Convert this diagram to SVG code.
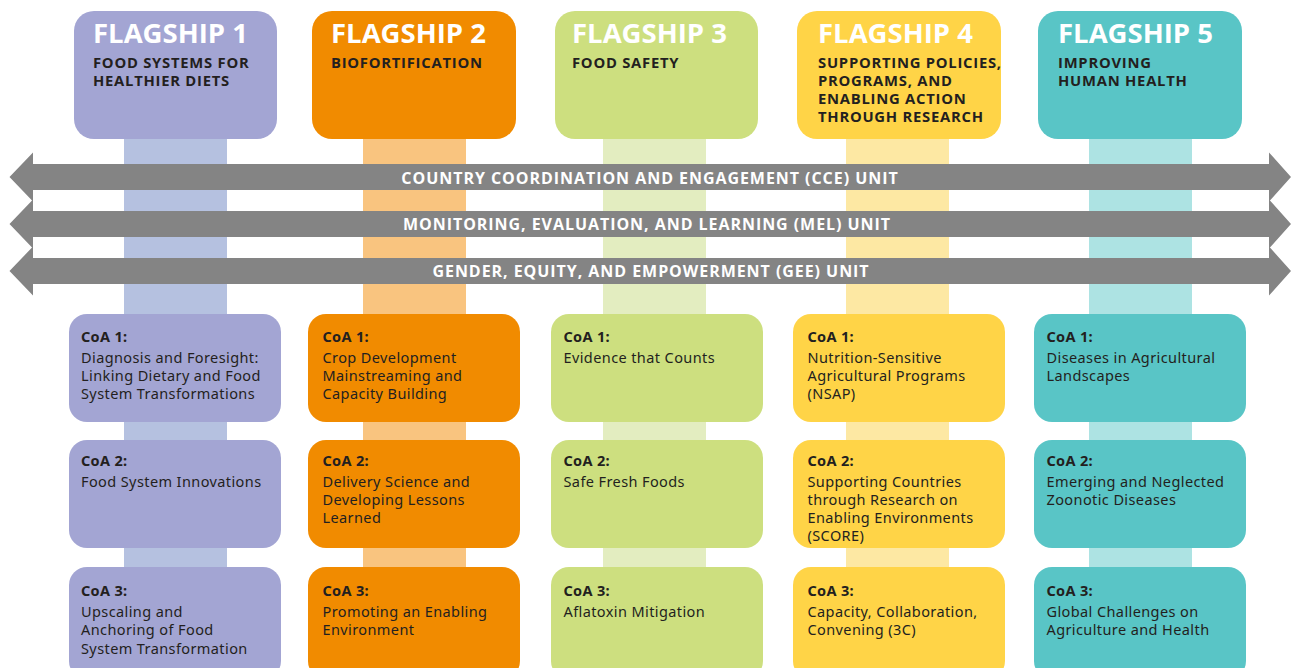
<svg xmlns="http://www.w3.org/2000/svg" width="1291" height="668" viewBox="0 0 1291 668">
<style>
.title{font-family:"Open Sans","Noto Sans",sans-serif;font-weight:700;font-size:27.5px;fill:#ffffff}
.sub{font-family:"Open Sans","Noto Sans",sans-serif;font-weight:700;font-size:14.8px;fill:#231f20;letter-spacing:0.75px}
.unit{font-family:"Open Sans","Noto Sans",sans-serif;font-weight:700;font-size:16px;fill:#ffffff;letter-spacing:0.95px}
.lab{font-family:"Noto Sans",sans-serif;font-weight:700;font-size:14.5px;fill:#231f20;letter-spacing:0.3px}
.body{font-family:"Noto Sans",sans-serif;font-weight:400;font-size:14.5px;fill:#231f20;letter-spacing:0.4px}
.arrow{fill:#848484}
</style>
<defs>
<path id="arr" d="M9.5,177 L33,152.5 L33,164 L1269,164 L1269,152.5 L1291,177 L1269,201.5 L1269,190 L33,190 L33,201.5 Z"/>
</defs>
<rect width="1291" height="668" fill="#ffffff"/>
<g id="stems">
<rect x="124" y="130" width="103" height="540" fill="#b5c1e0"/>
<rect x="363" y="130" width="103" height="540" fill="#f9c47f"/>
<rect x="603" y="130" width="103" height="540" fill="#e3edc0"/>
<rect x="846" y="130" width="103" height="540" fill="#fde8a3"/>
<rect x="1089" y="130" width="103" height="540" fill="#ade3e3"/>
</g>
<g id="flagship1">
<rect x="74" y="11" width="203" height="128" rx="20" fill="#a3a5d3"/>
<text class="title" x="93" y="43">FLAGSHIP 1</text>
<text class="sub" x="93" y="68">FOOD SYSTEMS FOR</text>
<text class="sub" x="93" y="86">HEALTHIER DIETS</text>
</g>
<g id="flagship2">
<rect x="312" y="11" width="204" height="128" rx="20" fill="#f18b00"/>
<text class="title" x="331" y="43">FLAGSHIP 2</text>
<text class="sub" x="331" y="68">BIOFORTIFICATION</text>
</g>
<g id="flagship3">
<rect x="555" y="11" width="203" height="128" rx="20" fill="#cddf7f"/>
<text class="title" x="572" y="43">FLAGSHIP 3</text>
<text class="sub" x="572" y="68">FOOD SAFETY</text>
</g>
<g id="flagship4">
<rect x="797" y="11" width="204" height="128" rx="20" fill="#ffd447"/>
<text class="title" x="818" y="43">FLAGSHIP 4</text>
<text class="sub" x="818" y="68">SUPPORTING POLICIES,</text>
<text class="sub" x="818" y="86">PROGRAMS, AND</text>
<text class="sub" x="818" y="104">ENABLING ACTION</text>
<text class="sub" x="818" y="122">THROUGH RESEARCH</text>
</g>
<g id="flagship5">
<rect x="1038" y="11" width="204" height="128" rx="20" fill="#59c5c6"/>
<text class="title" x="1058" y="43">FLAGSHIP 5</text>
<text class="sub" x="1058" y="68">IMPROVING</text>
<text class="sub" x="1058" y="86">HUMAN HEALTH</text>
</g>
<g id="connectors">
<g id="cce">
<use href="#arr" class="arrow"/>
<text class="unit" x="650" y="183.5" text-anchor="middle">COUNTRY COORDINATION AND ENGAGEMENT (CCE) UNIT</text>
</g>
<g id="mel">
<use href="#arr" class="arrow" transform="translate(0,47)"/>
<text class="unit" x="647" y="230" text-anchor="middle">MONITORING, EVALUATION, AND LEARNING (MEL) UNIT</text>
</g>
<g id="gee">
<use href="#arr" class="arrow" transform="translate(0,94)"/>
<text class="unit" x="651" y="277" text-anchor="middle">GENDER, EQUITY, AND EMPOWERMENT (GEE) UNIT</text>
</g>
</g>
<g id="f1-coa1">
<rect x="69" y="314" width="212" height="108" rx="18" fill="#a3a5d3"/>
<text class="lab" x="81" y="342">CoA 1:</text>
<text class="body" x="81" y="362.5">Diagnosis and Foresight:</text>
<text class="body" x="81" y="380.8">Linking Dietary and Food</text>
<text class="body" x="81" y="399">System Transformations</text>
</g>
<g id="f1-coa2">
<rect x="69" y="440" width="212" height="108" rx="18" fill="#a3a5d3"/>
<text class="lab" x="81" y="466">CoA 2:</text>
<text class="body" x="81" y="486.5">Food System Innovations</text>
</g>
<g id="f1-coa3">
<rect x="69" y="567" width="212" height="112" rx="18" fill="#a3a5d3"/>
<text class="lab" x="81" y="596">CoA 3:</text>
<text class="body" x="81" y="617">Upscaling and</text>
<text class="body" x="81" y="635.3">Anchoring of Food</text>
<text class="body" x="81" y="653.6">System Transformation</text>
</g>
<g id="f2-coa1">
<rect x="308" y="314" width="212" height="108" rx="18" fill="#f18b00"/>
<text class="lab" x="322.5" y="342">CoA 1:</text>
<text class="body" x="322.5" y="362.5">Crop Development</text>
<text class="body" x="322.5" y="380.8">Mainstreaming and</text>
<text class="body" x="322.5" y="399">Capacity Building</text>
</g>
<g id="f2-coa2">
<rect x="308" y="440" width="212" height="108" rx="18" fill="#f18b00"/>
<text class="lab" x="322.5" y="466">CoA 2:</text>
<text class="body" x="322.5" y="486.5">Delivery Science and</text>
<text class="body" x="322.5" y="504.8">Developing Lessons</text>
<text class="body" x="322.5" y="523">Learned</text>
</g>
<g id="f2-coa3">
<rect x="308" y="567" width="212" height="112" rx="18" fill="#f18b00"/>
<text class="lab" x="322.5" y="596">CoA 3:</text>
<text class="body" x="322.5" y="617">Promoting an Enabling</text>
<text class="body" x="322.5" y="635.3">Environment</text>
</g>
<g id="f3-coa1">
<rect x="551" y="314" width="212" height="108" rx="18" fill="#cddf7f"/>
<text class="lab" x="563.5" y="342">CoA 1:</text>
<text class="body" x="563.5" y="362.5">Evidence that Counts</text>
</g>
<g id="f3-coa2">
<rect x="551" y="440" width="212" height="108" rx="18" fill="#cddf7f"/>
<text class="lab" x="563.5" y="466">CoA 2:</text>
<text class="body" x="563.5" y="486.5">Safe Fresh Foods</text>
</g>
<g id="f3-coa3">
<rect x="551" y="567" width="212" height="112" rx="18" fill="#cddf7f"/>
<text class="lab" x="563.5" y="596">CoA 3:</text>
<text class="body" x="563.5" y="617">Aflatoxin Mitigation</text>
</g>
<g id="f4-coa1">
<rect x="793" y="314" width="212" height="108" rx="18" fill="#ffd447"/>
<text class="lab" x="807.5" y="342">CoA 1:</text>
<text class="body" x="807.5" y="362.5">Nutrition-Sensitive</text>
<text class="body" x="807.5" y="380.8">Agricultural Programs</text>
<text class="body" x="807.5" y="399">(NSAP)</text>
</g>
<g id="f4-coa2">
<rect x="793" y="440" width="212" height="108" rx="18" fill="#ffd447"/>
<text class="lab" x="807.5" y="466">CoA 2:</text>
<text class="body" x="807.5" y="486.5">Supporting Countries</text>
<text class="body" x="807.5" y="504.8">through Research on</text>
<text class="body" x="807.5" y="523">Enabling Environments</text>
<text class="body" x="807.5" y="541.3">(SCORE)</text>
</g>
<g id="f4-coa3">
<rect x="793" y="567" width="212" height="112" rx="18" fill="#ffd447"/>
<text class="lab" x="807.5" y="596">CoA 3:</text>
<text class="body" x="807.5" y="617">Capacity, Collaboration,</text>
<text class="body" x="807.5" y="635.3">Convening (3C)</text>
</g>
<g id="f5-coa1">
<rect x="1034" y="314" width="212" height="108" rx="18" fill="#59c5c6"/>
<text class="lab" x="1046.5" y="342">CoA 1:</text>
<text class="body" x="1046.5" y="362.5">Diseases in Agricultural</text>
<text class="body" x="1046.5" y="380.8">Landscapes</text>
</g>
<g id="f5-coa2">
<rect x="1034" y="440" width="212" height="108" rx="18" fill="#59c5c6"/>
<text class="lab" x="1046.5" y="466">CoA 2:</text>
<text class="body" x="1046.5" y="486.5">Emerging and Neglected</text>
<text class="body" x="1046.5" y="504.8">Zoonotic Diseases</text>
</g>
<g id="f5-coa3">
<rect x="1034" y="567" width="212" height="112" rx="18" fill="#59c5c6"/>
<text class="lab" x="1046.5" y="596">CoA 3:</text>
<text class="body" x="1046.5" y="617">Global Challenges on</text>
<text class="body" x="1046.5" y="635.3">Agriculture and Health</text>
</g>
</svg>
